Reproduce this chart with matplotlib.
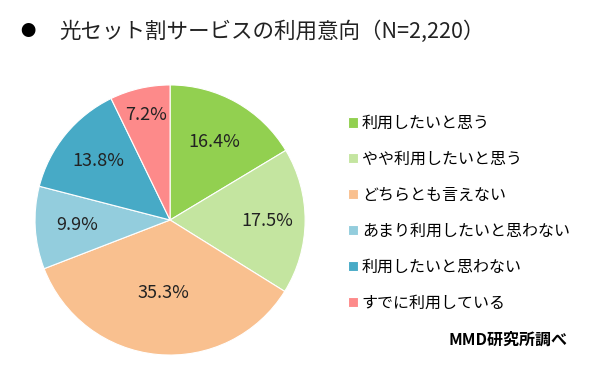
import numpy as np
import matplotlib.pyplot as plt

plt.rcParams['font.family'] = ['Noto Sans CJK JP', 'DejaVu Sans']

labels = ['利用したいと思う', 'やや利用したいと思う', 'どちらとも言えない',
          'あまり利用したいと思わない', '利用したいと思わない', 'すでに利用している']
values = [16.4, 17.5, 35.3, 9.9, 13.8, 7.2]
colors = ['#92d050', '#c4e5a0', '#f9c08f', '#93cddd', '#47aac6', '#fd8a8a']
# label distance from centre per slice (as placed in the original)
label_r = [0.66, 0.72, 0.54, 0.69, 0.69, 0.80]

fig = plt.figure(figsize=(6.02, 3.71), dpi=100)
ax = fig.add_axes([0.058, 0.043, 0.449, 0.728])

wedges, texts, autotexts = ax.pie(
    values, colors=colors, startangle=90, counterclock=False,
    autopct='%.1f%%', pctdistance=0.65,
    wedgeprops=dict(edgecolor='white', linewidth=0.8),
    textprops=dict(fontsize=13, color='#222222'))
ax.set_xlim(-1.0, 1.0)
ax.set_ylim(-1.0, 1.0)
ax.set_aspect('equal')

for w, t, r in zip(wedges, autotexts, label_r):
    ang = np.deg2rad((w.theta1 + w.theta2) / 2)
    t.set_position((r * np.cos(ang), r * np.sin(ang)))

fig.legend(wedges, labels, loc='upper left', bbox_to_anchor=(0.568, 0.707),
           frameon=False, fontsize=11.5, handlelength=0.6, handleheight=0.6,
           handletextpad=0.25, labelspacing=1.18, borderaxespad=0)

fig.text(0.047, 0.914, '●', fontsize=11, va='center', ha='center')
fig.text(0.098, 0.914, '光セット割サービスの利用意向（N=2,220）',
         fontsize=15.5, va='center', color='#222222')
fig.text(0.942, 0.084, 'MMD研究所調べ', fontsize=11.5, ha='right', va='center',
         fontweight='bold')

fig.savefig('out.png', dpi=100, facecolor='white')
